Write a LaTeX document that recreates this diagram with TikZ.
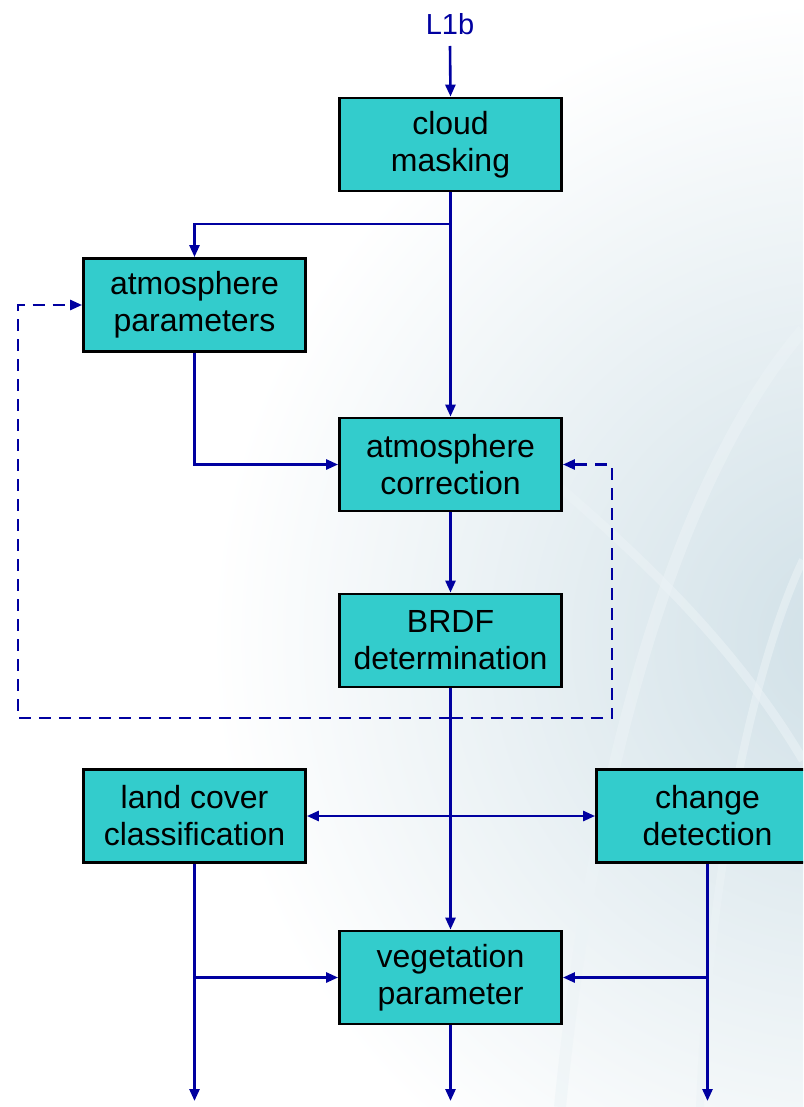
\documentclass[tikz,border=0pt]{standalone}
\usepackage{fontspec}
\setmainfont{Liberation Sans}
\usetikzlibrary{arrows.meta}
\definecolor{boxfill}{RGB}{51,204,204}
\definecolor{linkblue}{RGB}{0,0,160}
\definecolor{bgtint}{RGB}{208,224,231}
\definecolor{arcwhite}{RGB}{236,243,246}
\begin{document}
\begin{tikzpicture}[x=1pt,y=-1pt,
  procbox/.style={draw=black,line width=2.8pt,fill=boxfill,minimum width=222pt,minimum height=93pt,
    align=center,inner sep=0pt,font=\fontsize{32}{37}\selectfont,text=black},
  link/.style={draw=linkblue,line width=2.6pt,-{Triangle[length=12pt,width=10pt]}},
  dlink/.style={link,dash pattern=on 12pt off 8pt},
  bgarc/.style={draw=arcwhite,opacity=0.55}]
\useasboundingbox (0,0) rectangle (803,1107);
\begin{scope}
\clip (0,0) rectangle (803,1107);
\fill[white] (0,0) rectangle (803,1107);
\shade[inner color=bgtint,outer color=white] (850,640) circle (640);
\draw[bgarc,line width=12pt] (560,1107) .. controls (600,700) and (700,450) .. (803,330);
\draw[bgarc,line width=9pt] (480,420) .. controls (600,520) and (720,620) .. (803,760);
\draw[bgarc,line width=8pt] (700,1107) .. controls (710,850) and (760,650) .. (803,560);

% nodes
\node[font=\fontsize{29}{34}\selectfont,text=linkblue] (l1b) at (450,24) {L1b};
\node[procbox] (cloud) at (450.5,144.5) {cloud\\masking};
\node[procbox] (atmp) at (194.5,305) {atmosphere\\parameters};
\node[procbox] (atmc) at (450.5,464.5) {atmosphere\\correction};
\node[procbox] (brdf) at (450.5,640.5) {BRDF\\determination};
\node[procbox] (land) at (194.5,816) {land cover\\classification};
\node[procbox] (change) at (707.5,816) {change\\detection};
\node[procbox] (veg) at (450.5,977.5) {vegetation\\parameter};

\coordinate (split1) at (450.5,224);
\coordinate (fb) at (450.5,718);
\coordinate (outL) at (194.5,1101);
\coordinate (outM) at (450.5,1101);
\coordinate (outR) at (707.5,1101);

% connectors
\draw[link] (l1b.south |- 0,46) -- (cloud.north);
\draw[link] (cloud.south) -- (atmc.north);
\draw[link] (split1) -| (atmp.north);
\draw[link] (atmp.south) |- (atmc.west);
\draw[link] (atmc.south) -- (brdf.north);
\draw[link] (brdf.south) -- (veg.north);
\draw[link,{Triangle[length=12pt,width=10pt]}-{Triangle[length=12pt,width=10pt]}] (land.east) -- (change.west);
\draw[dlink] (fb) -- (18,718) -- (18,305) -- (atmp.west);
\draw[dlink] (fb) -- (612,718) -- (612,464.5) -- (atmc.east);
\draw[link] (land.south) -- (outL);
\draw[link] (land.south |- veg.west) -- (veg.west);
\draw[link] (change.south) -- (outR);
\draw[link] (change.south |- veg.east) -- (veg.east);
\draw[link] (veg.south) -- (outM);
\end{scope}
\end{tikzpicture}
\end{document}
